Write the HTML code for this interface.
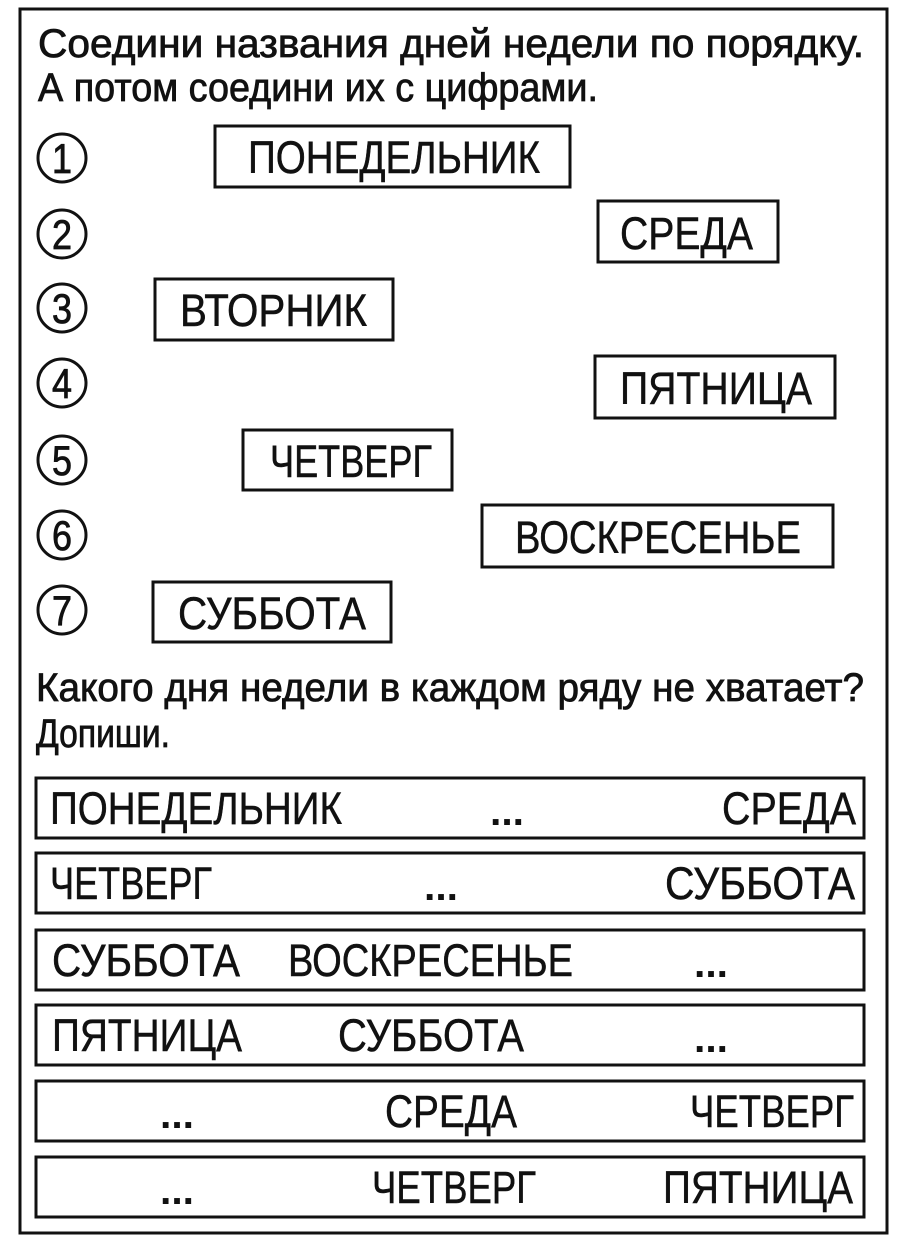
<!DOCTYPE html>
<html><head><meta charset="utf-8"><style>
html,body{margin:0;padding:0;background:#fff;width:900px;height:1242px;overflow:hidden}
svg text{font-family:"Liberation Sans Narrow","Liberation Sans",sans-serif;fill:#111}
</style></head><body>
<svg width="900" height="1242" viewBox="0 0 900 1242" xmlns="http://www.w3.org/2000/svg">
<g fill="none" stroke="#111" stroke-width="3">
<rect x="20" y="9" width="867" height="1224"/>
<rect x="215" y="126" width="355" height="61"/>
<rect x="598" y="201" width="180" height="61"/>
<rect x="155" y="279" width="238" height="61"/>
<rect x="595" y="356" width="240" height="62"/>
<rect x="243" y="430" width="209" height="60"/>
<rect x="482" y="505" width="351" height="62"/>
<rect x="153" y="582" width="238" height="60"/>
<rect x="36" y="778" width="828" height="60"/>
<rect x="36" y="853" width="828" height="60"/>
<rect x="36" y="930" width="828" height="60"/>
<rect x="36" y="1005" width="828" height="60"/>
<rect x="36" y="1081" width="828" height="60"/>
<rect x="36" y="1157" width="828" height="60"/>
</g>
<g fill="none" stroke="#111" stroke-width="3">
<circle cx="62" cy="158" r="24"/><circle cx="62" cy="234" r="24"/><circle cx="62" cy="308" r="24"/>
<circle cx="62" cy="383" r="24"/><circle cx="62" cy="460" r="24"/><circle cx="62" cy="535" r="24"/>
<circle cx="62" cy="610" r="24"/>
</g>
<g font-size="42" text-anchor="middle" stroke="#111" stroke-width="0.8">
<text x="62" y="173" textLength="20" lengthAdjust="spacingAndGlyphs">1</text><text x="62" y="249" textLength="20" lengthAdjust="spacingAndGlyphs">2</text><text x="62" y="323" textLength="20" lengthAdjust="spacingAndGlyphs">3</text>
<text x="62" y="398" textLength="20" lengthAdjust="spacingAndGlyphs">4</text><text x="62" y="475" textLength="20" lengthAdjust="spacingAndGlyphs">5</text><text x="62" y="550" textLength="20" lengthAdjust="spacingAndGlyphs">6</text>
<text x="62" y="625" textLength="20" lengthAdjust="spacingAndGlyphs">7</text>
</g>
<g font-size="40" stroke="#111" stroke-width="0.8">
<text x="38" y="57" textLength="826" lengthAdjust="spacingAndGlyphs">Соедини названия дней недели по порядку.</text>
<text x="38" y="101" textLength="560" lengthAdjust="spacingAndGlyphs">А потом соедини их с цифрами.</text>
<text x="36" y="701" textLength="828" lengthAdjust="spacingAndGlyphs">Какого дня недели в каждом ряду не хватает?</text>
<text x="36" y="747" textLength="134" lengthAdjust="spacingAndGlyphs">Допиши.</text>
</g>
<g font-size="45" stroke="#111" stroke-width="0.5">
<text x="248" y="173" textLength="292" lengthAdjust="spacingAndGlyphs">ПОНЕДЕЛЬНИК</text>
<text x="620" y="249" textLength="133" lengthAdjust="spacingAndGlyphs">СРЕДА</text>
<text x="180" y="326" textLength="187" lengthAdjust="spacingAndGlyphs">ВТОРНИК</text>
<text x="620" y="404" textLength="192" lengthAdjust="spacingAndGlyphs">ПЯТНИЦА</text>
<text x="270" y="477" textLength="162" lengthAdjust="spacingAndGlyphs">ЧЕТВЕРГ</text>
<text x="515" y="553" textLength="286" lengthAdjust="spacingAndGlyphs">ВОСКРЕСЕНЬЕ</text>
<text x="178" y="629" textLength="188" lengthAdjust="spacingAndGlyphs">СУББОТА</text>

<text x="50" y="824" textLength="292" lengthAdjust="spacingAndGlyphs">ПОНЕДЕЛЬНИК</text>
<text x="722" y="824" textLength="134" lengthAdjust="spacingAndGlyphs">СРЕДА</text>
<text x="50" y="899" textLength="162" lengthAdjust="spacingAndGlyphs">ЧЕТВЕРГ</text>
<text x="665" y="899" textLength="190" lengthAdjust="spacingAndGlyphs">СУББОТА</text>
<text x="52" y="976" textLength="188" lengthAdjust="spacingAndGlyphs">СУББОТА</text>
<text x="288" y="976" textLength="285" lengthAdjust="spacingAndGlyphs">ВОСКРЕСЕНЬЕ</text>
<text x="52" y="1051" textLength="190" lengthAdjust="spacingAndGlyphs">ПЯТНИЦА</text>
<text x="338" y="1051" textLength="186" lengthAdjust="spacingAndGlyphs">СУББОТА</text>
<text x="385" y="1127" textLength="132" lengthAdjust="spacingAndGlyphs">СРЕДА</text>
<text x="690" y="1127" textLength="164" lengthAdjust="spacingAndGlyphs">ЧЕТВЕРГ</text>
<text x="372" y="1203" textLength="164" lengthAdjust="spacingAndGlyphs">ЧЕТВЕРГ</text>
<text x="663" y="1203" textLength="190" lengthAdjust="spacingAndGlyphs">ПЯТНИЦА</text>
</g>
<g font-size="40" font-weight="bold">
<text x="490" y="825" textLength="34" lengthAdjust="spacingAndGlyphs">...</text>
<text x="424" y="900" textLength="34" lengthAdjust="spacingAndGlyphs">...</text>
<text x="694" y="977" textLength="34" lengthAdjust="spacingAndGlyphs">...</text>
<text x="694" y="1052" textLength="34" lengthAdjust="spacingAndGlyphs">...</text>
<text x="160" y="1128" textLength="34" lengthAdjust="spacingAndGlyphs">...</text>
<text x="160" y="1204" textLength="34" lengthAdjust="spacingAndGlyphs">...</text>
</g>
</svg>
</body></html>
